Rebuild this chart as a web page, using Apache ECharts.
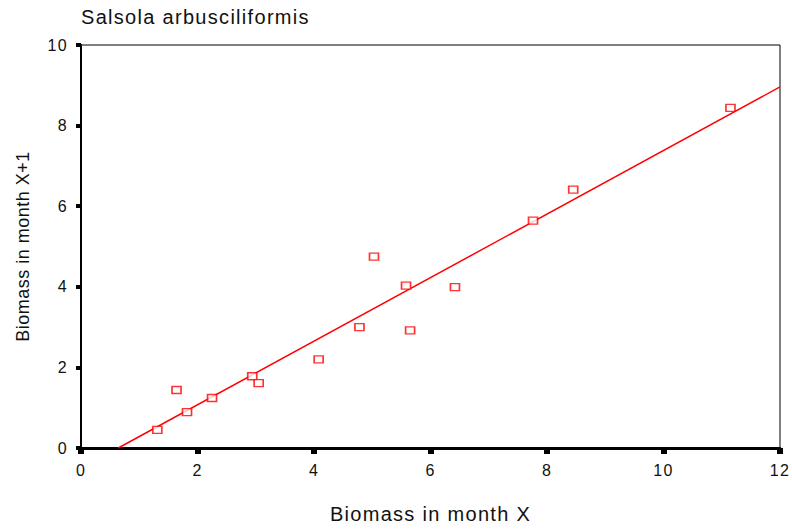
<!DOCTYPE html>
<html><head><meta charset="utf-8">
<script src="https://cdn.jsdelivr.net/npm/echarts@6/dist/echarts.min.js"></script>
<style>html,body{margin:0;padding:0;background:#fff}#c{width:792px;height:529px}#c text{letter-spacing:1.3px}#c text[transform*="matrix(0,-1"]{letter-spacing:0.5px}</style>
</head><body><div id="c"></div>
<script>
var titleText = 'Salsola arbusciliformis';
var xName = 'Biomass in month X';
var yName = 'Biomass in month X+1';
var xValues = [1.31, 1.64, 1.82, 2.25, 2.94, 3.05, 4.08, 4.78, 5.03, 5.58, 5.65, 6.42, 7.76, 8.45, 11.15];
var yValues = [0.45, 1.44, 0.89, 1.24, 1.78, 1.61, 2.20, 3.00, 4.75, 4.03, 2.92, 3.99, 5.64, 6.41, 8.44];
var fitX = [0.64, 12];
var fitY = [0, 8.96];

var pts = xValues.map(function(x,i){return [x, yValues[i]];});
var fit = fitX.map(function(x,i){return [x, fitY[i]];});
var FF = 'Liberation Sans, Arial, Helvetica, sans-serif';
var chart = echarts.init(document.getElementById('c'), null, {renderer:'svg'});
chart.setOption({
  backgroundColor:'#fff',
  animation:false,
  title:{text:titleText,left:76,top:2,textStyle:{fontFamily:FF,fontSize:20,fontWeight:'normal',color:'#111'}},
  grid:{left:81,right:12,top:45,bottom:78,show:true,borderColor:'#000',borderWidth:1},
  xAxis:{type:'value',min:0,max:12,interval:2,name:xName,nameLocation:'middle',nameGap:56,
    nameTextStyle:{fontFamily:FF,fontSize:20,color:'#111'},
    axisLine:{onZero:false,lineStyle:{color:'#000',width:3}},
    axisTick:{show:true,length:6,lineStyle:{color:'#000',width:6}},
    axisLabel:{fontFamily:FF,fontSize:16,color:'#111',margin:14},
    splitLine:{show:false}},
  yAxis:{type:'value',min:0,max:10,interval:2,name:yName,nameLocation:'middle',nameGap:49,
    nameTextStyle:{fontFamily:FF,fontSize:18,color:'#111'},
    axisLine:{onZero:false,lineStyle:{color:'#000',width:2}},
    axisTick:{show:true,length:5,lineStyle:{color:'#000',width:4}},
    axisLabel:{fontFamily:FF,fontSize:16,color:'#111',margin:13},
    splitLine:{show:false}},
  series:[
    {type:'line',data:fit,symbol:'none',lineStyle:{color:'#ff0000',width:1.5},z:2},
    {type:'scatter',data:pts,symbol:'rect',symbolSize:[9,7],
     itemStyle:{color:'#fff',borderColor:'#ff0000',borderWidth:1.5},z:3}
  ]
});
</script></body></html>
